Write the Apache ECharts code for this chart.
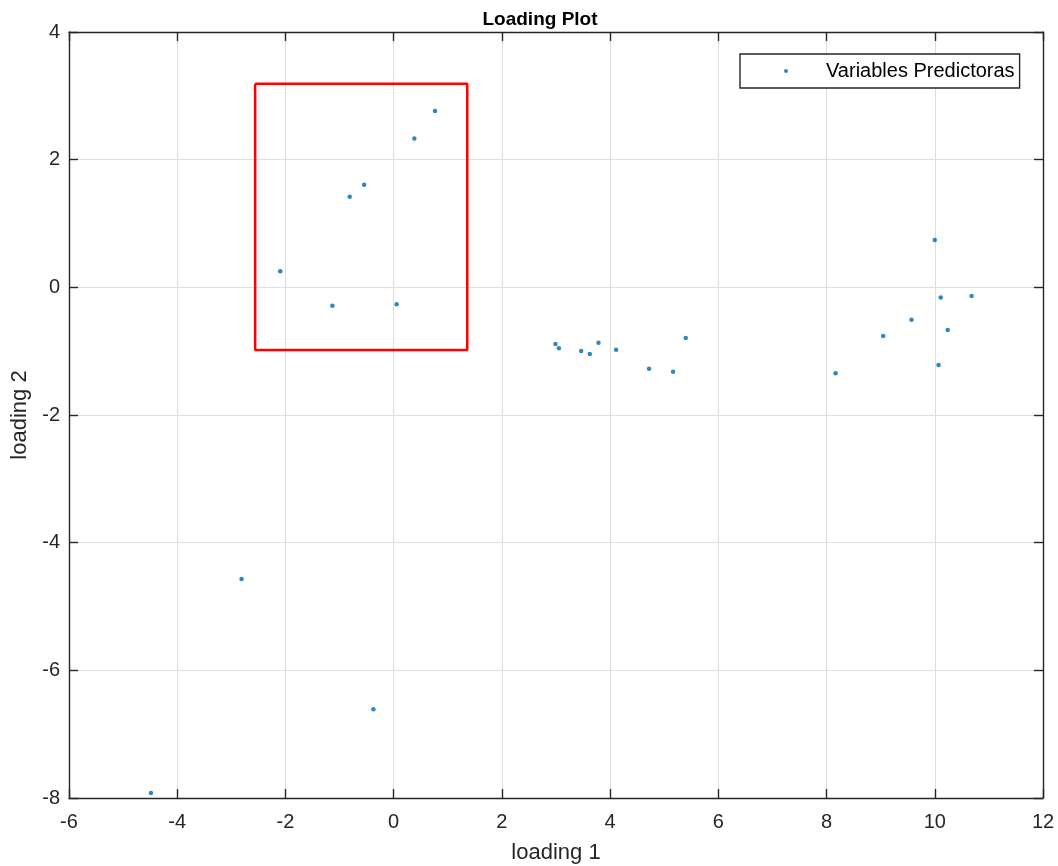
<!DOCTYPE html>
<html>
<head>
<meta charset="utf-8">
<script src="https://cdn.jsdelivr.net/npm/echarts@6/dist/echarts.min.js"></script>
<style>
  html, body { margin: 0; padding: 0; background: #fff; }
  #chart { width: 1058px; height: 866px; }
</style>
</head>
<body>
<div id="chart"></div>
<script>
// Loadings of the predictor variables on the first two components
const loading1 = [0.764, 0.382, -0.546, -0.812, -2.097, -1.132, 0.055,
  2.99, 3.053, 3.465, 3.625, 3.785, 4.111, 4.72, 5.163, 5.398,
  10.0, 10.11, 10.68, 9.57, 10.24, 9.046, 10.07, 8.167,
  -2.811, -0.375, -4.486];
const loading2 = [2.762, 2.33, 1.609, 1.421, 0.251, -0.287, -0.266,
  -0.888, -0.956, -0.998, -1.045, -0.867, -0.976, -1.274, -1.321, -0.794,
  0.741, -0.161, -0.136, -0.506, -0.669, -0.763, -1.217, -1.347,
  -4.57, -6.611, -7.92];

// Highlight rectangle corners (loading 1, loading 2)
const boxX = [-2.56, 1.36, 1.36, -2.56, -2.56];
const boxY = [3.19, 3.19, -0.98, -0.98, 3.19];

const xTicks = [-6, -4, -2, 0, 2, 4, 6, 8, 10, 12];
const yTicks = [-8, -6, -4, -2, 0, 2, 4];

const seriesName = 'Variables Predictoras';
const FONT = '"Liberation Sans", Arial, Helvetica, sans-serif';
const AXIS_COLOR = '#262626';
const GRID_COLOR = '#dedede';

const points = loading1.map((x, i) => [x, loading2[i]]);
const box = boxX.map((x, i) => [x, boxY[i]]);

const chart = echarts.init(document.getElementById('chart'), null, { renderer: 'canvas' });

function valueAxis(ticks, extra) {
  return Object.assign({
    type: 'value',
    min: ticks[0],
    max: ticks[ticks.length - 1],
    interval: ticks[1] - ticks[0],
    axisLine: { show: true, onZero: false, lineStyle: { color: AXIS_COLOR, width: 1.4 } },
    axisTick: { show: true, inside: true, length: 9, lineStyle: { color: AXIS_COLOR, width: 1.4 } },
    splitLine: { show: false },
    axisLabel: { show: false }
  }, extra);
}

chart.setOption({
  animation: false,
  backgroundColor: '#ffffff',
  title: {
    text: 'Loading Plot',
    left: 535,
    textAlign: 'center',
    top: 5,
    textStyle: { fontFamily: FONT, fontSize: 19, fontWeight: 'bold', color: '#000' }
  },
  grid: { left: 69, right: 15, top: 32, bottom: 68, containLabel: false, outerBoundsMode: 'none' },
  legend: {
    data: [{ name: seriesName, icon: 'circle' }],
    left: 740,
    top: 54,
    orient: 'vertical',
    itemWidth: 4,
    itemHeight: 4,
    padding: [7, 5, 7, 44],
    backgroundColor: '#fff',
    borderColor: AXIS_COLOR,
    borderWidth: 1.4,
    borderRadius: 0,
    selectedMode: false,
    textStyle: { fontFamily: FONT, fontSize: 20, color: '#000', padding: [0, 0, 0, 33] }
  },
  xAxis: [
    valueAxis(xTicks, {
      position: 'bottom',
      name: 'loading 1',
      nameLocation: 'middle',
      nameGap: 44,
      nameTextStyle: { fontFamily: FONT, fontSize: 22, color: AXIS_COLOR },
      splitLine: { show: true, lineStyle: { color: GRID_COLOR, width: 1 } },
      axisLabel: { show: true, margin: 14, fontFamily: FONT, fontSize: 20, color: AXIS_COLOR }
    }),
    valueAxis(xTicks, { position: 'top' })
  ],
  yAxis: [
    valueAxis(yTicks, {
      position: 'left',
      name: 'loading 2',
      nameLocation: 'middle',
      nameGap: 36,
      nameRotate: 90,
      nameTextStyle: { fontFamily: FONT, fontSize: 22, color: AXIS_COLOR },
      splitLine: { show: true, lineStyle: { color: GRID_COLOR, width: 1 } },
      axisLabel: { show: true, margin: 9, fontFamily: FONT, fontSize: 20, color: AXIS_COLOR }
    }),
    valueAxis(yTicks, { position: 'right' })
  ],
  series: [
    {
      name: seriesName,
      type: 'scatter',
      xAxisIndex: 0,
      yAxisIndex: 0,
      symbol: 'circle',
      symbolSize: 4.5,
      itemStyle: { color: '#0066aa' },
      data: points,
      z: 5
    },
    {
      name: 'box',
      type: 'line',
      xAxisIndex: 0,
      yAxisIndex: 0,
      data: box,
      showSymbol: false,
      symbol: 'none',
      lineStyle: { color: '#ff0000', width: 2.5 },
      silent: true,
      z: 4
    }
  ]
});
</script>
</body>
</html>
